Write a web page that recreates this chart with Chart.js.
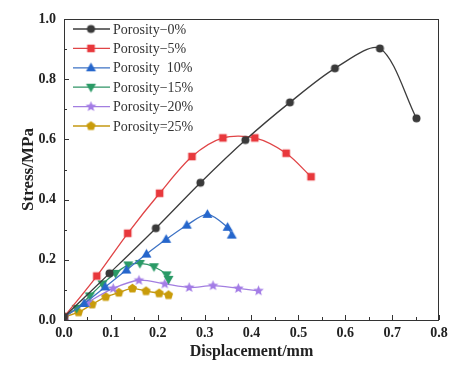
<!DOCTYPE html>
<html>
<head>
<meta charset="utf-8">
<script src="https://cdn.jsdelivr.net/npm/chart.js@4.4.1/dist/chart.umd.min.js"></script>
<style>
  html, body { margin:0; padding:0; background:#fff; }
  #wrap { width:454px; height:372px; position:relative; }
</style>
</head>
<body>
<div id="wrap"><canvas id="c"></canvas></div>
<script>
// ===== DATA =====
const labels = ['Porosity\u22120%', 'Porosity\u22125%', 'Porosity  10%', 'Porosity\u221215%', 'Porosity\u221220%', 'Porosity=25%'];
const disp0 = [0, 0.097, 0.196, 0.291, 0.387, 0.482, 0.578, 0.674, 0.752];
const stress0 = [0.01, 0.155, 0.305, 0.456, 0.598, 0.723, 0.836, 0.902, 0.670];
const disp5 = [0, 0.070, 0.136, 0.204, 0.273, 0.339, 0.407, 0.474, 0.527];
const stress5 = [0.01, 0.146, 0.288, 0.421, 0.543, 0.605, 0.605, 0.554, 0.476];
const disp10 = [0, 0.043, 0.088, 0.133, 0.176, 0.218, 0.262, 0.306, 0.349, 0.358];
const stress10 = [0.01, 0.055, 0.110, 0.166, 0.219, 0.268, 0.315, 0.351, 0.308, 0.282];
const disp15 = [0, 0.027, 0.055, 0.082, 0.110, 0.137, 0.162, 0.192, 0.219, 0.223];
const stress15 = [0.01, 0.039, 0.080, 0.120, 0.155, 0.183, 0.188, 0.177, 0.150, 0.135];
const disp20 = [0, 0.050, 0.105, 0.160, 0.215, 0.267, 0.318, 0.372, 0.415];
const stress20 = [0.01, 0.058, 0.105, 0.132, 0.120, 0.108, 0.114, 0.105, 0.097];
const disp25 = [0, 0.031, 0.060, 0.089, 0.117, 0.146, 0.175, 0.203, 0.223];
const stress25 = [0.01, 0.026, 0.052, 0.077, 0.091, 0.105, 0.096, 0.089, 0.083];
const xTicks = [0, 0.1, 0.2, 0.3, 0.4, 0.5, 0.6, 0.7, 0.8];
const yTicks = [0, 0.2, 0.4, 0.6, 0.8, 1.0];

const lineColors = ['#3c3c3c', '#e04446', '#3d72c4', '#2f9466', '#a27ee0', '#c49812'];
const markColors = ['#3a3a3a', '#e8383c', '#2566cc', '#2a9a66', '#a37ce6', '#c99c0a'];
const shapes = ['circle', 'square', 'triangle', 'triangleDown', 'star', 'pentagon'];

// marker images so chart + legend share the same glyph
function makeMarker(kind, color) {
  const s = 13, c = document.createElement('canvas');
  c.width = s; c.height = s;
  const g = c.getContext('2d'), m = s / 2;
  g.fillStyle = color;
  g.beginPath();
  if (kind === 'circle') g.arc(m, m, 4, 0, Math.PI * 2);
  else if (kind === 'square') g.rect(m - 3.8, m - 3.8, 7.6, 7.6);
  else if (kind === 'triangle' || kind === 'triangleDown') {
    const d = kind === 'triangle' ? 1 : -1;
    g.moveTo(m, m - d * 5.2); g.lineTo(m + 5, m + d * 3.6); g.lineTo(m - 5, m + d * 3.6);
  } else if (kind === 'star') {
    for (let i = 0; i < 10; i++) {
      const r = i % 2 ? 2.4 : 5.6, a = -Math.PI / 2 + i * Math.PI / 5;
      g.lineTo(m + r * Math.cos(a), m + r * Math.sin(a));
    }
  } else if (kind === 'pentagon') {
    for (let i = 0; i < 5; i++) {
      const a = -Math.PI / 2 + i * 2 * Math.PI / 5;
      g.lineTo(m + 4.8 * Math.cos(a), m + 4.8 * Math.sin(a));
    }
  }
  g.closePath(); g.fill();
  return c;
}
const markers = shapes.map((k, i) => makeMarker(k, markColors[i]));

const xs = [disp0, disp5, disp10, disp15, disp20, disp25];
const ys = [stress0, stress5, stress10, stress15, stress20, stress25];
const datasets = labels.map((lab, i) => ({
  label: lab,
  data: xs[i].map((x, j) => ({ x, y: ys[i][j] })),
  borderColor: lineColors[i],
  borderWidth: 1.3,
  tension: 0.3,
  pointStyle: markers[i],
  pointRadius: 4,
  fill: false,
}));

const serif = '"Liberation Serif", "Times New Roman", serif';

// full frame, inward ticks, legend
const decor = {
  id: 'decor',
  afterDraw(chart) {
    const { ctx, chartArea: a, scales } = chart;
    ctx.save();
    ctx.strokeStyle = '#333';
    ctx.lineWidth = 1;
    ctx.strokeRect(a.left + 0.5, a.top + 0.5, a.right - a.left - 1, a.bottom - a.top);
    ctx.beginPath();
    for (let v = 0; v <= 0.8001; v += 0.05) {
      const px = Math.round(scales.x.getPixelForValue(v)) + 0.5;
      const len = Math.abs(v * 10 - Math.round(v * 10)) < 1e-6 ? 5 : 3;
      ctx.moveTo(px, a.bottom); ctx.lineTo(px, a.bottom - len);
    }
    for (let v = 0; v <= 1.0001; v += 0.1) {
      const py = Math.round(scales.y.getPixelForValue(v)) + 0.5;
      const len = Math.abs(v * 5 - Math.round(v * 5)) < 1e-6 ? 5 : 3;
      ctx.moveTo(a.left, py); ctx.lineTo(a.left + len, py);
    }
    ctx.stroke();
    // legend
    ctx.font = '14px ' + serif;
    ctx.textBaseline = 'middle';
    labels.forEach((lab, i) => {
      const y = 29 + i * 19.4;
      ctx.strokeStyle = lineColors[i];
      ctx.lineWidth = 1.3;
      ctx.beginPath(); ctx.moveTo(73, y); ctx.lineTo(110, y); ctx.stroke();
      ctx.drawImage(markers[i], 91 - markers[i].width / 2, y - markers[i].height / 2);
      ctx.fillStyle = '#333';
      ctx.fillText(lab, 113, y + 1);
    });
    ctx.restore();
  }
};

new Chart(document.getElementById('c'), {
  type: 'line',
  data: { datasets },
  options: {
    responsive: true,
    maintainAspectRatio: false,
    animation: false,
    layout: { padding: { left: 0, top: 19, right: 15, bottom: 0 } },
    plugins: { legend: { display: false }, tooltip: { enabled: false } },
    scales: {
      x: {
        type: 'linear', min: 0, max: 0.8,
        afterBuildTicks: s => { s.ticks = xTicks.map(v => ({ value: v })); },
        afterFit: s => { s.height = 52; },
        grid: { display: false, drawTicks: false },
        border: { display: false },
        ticks: { padding: 5, color: '#222', font: { family: serif, size: 14, weight: 'bold' }, callback: v => v.toFixed(1) },
        title: { display: true, text: 'Displacement/mm', color: '#222', font: { family: serif, size: 16, weight: 'bold' }, padding: { top: 0, bottom: 11 } }
      },
      y: {
        type: 'linear', min: 0, max: 1.0,
        afterBuildTicks: s => { s.ticks = yTicks.map(v => ({ value: v })); },
        afterFit: s => { s.width = 64; },
        grid: { display: false, drawTicks: false },
        border: { display: false },
        ticks: { padding: 8, color: '#222', font: { family: serif, size: 14, weight: 'bold' }, callback: v => v.toFixed(1) },
        title: { display: true, text: 'Stress/MPa', color: '#222', font: { family: serif, size: 17, weight: 'bold' }, padding: { top: 18, bottom: 0 } }
      }
    }
  },
  plugins: [decor]
});
</script>
</body>
</html>
